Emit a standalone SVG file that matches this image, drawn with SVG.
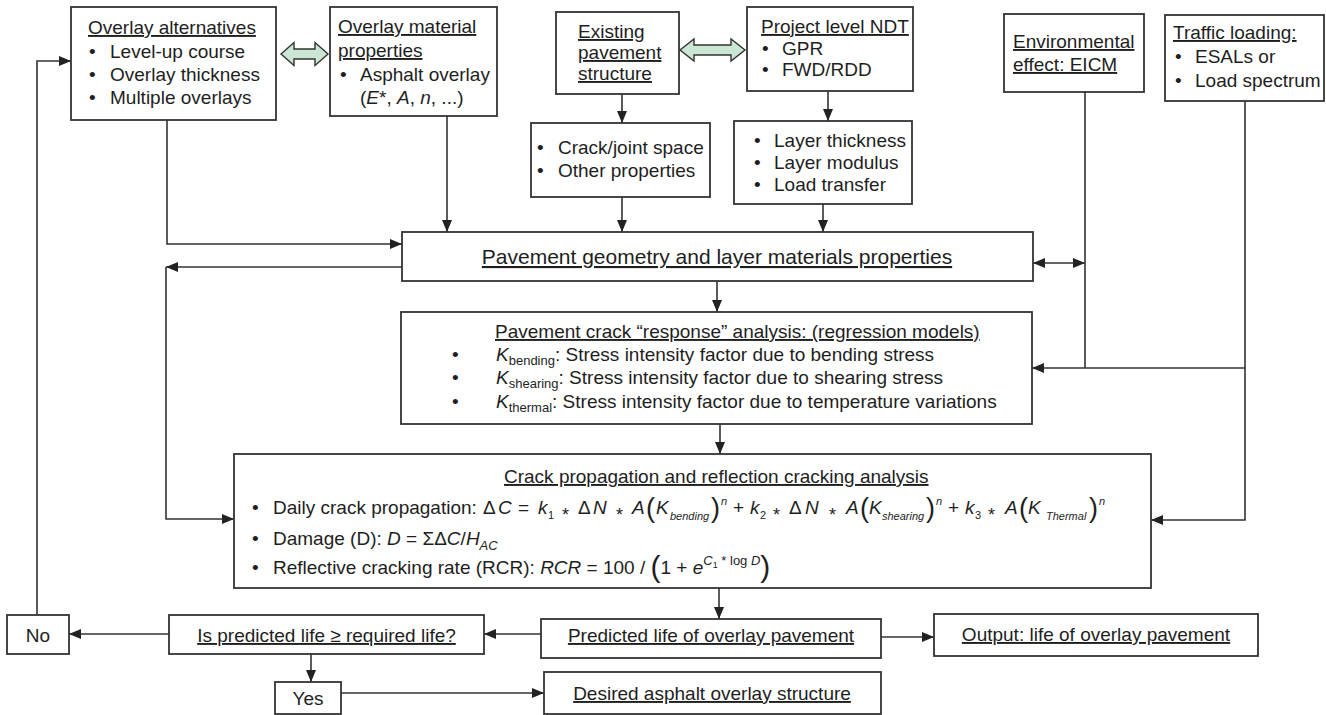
<svg xmlns="http://www.w3.org/2000/svg" width="1326" height="715" viewBox="0 0 1326 715">
<style>
.box{fill:#fff;stroke:#333;stroke-width:1.8}
.t{font-family:"Liberation Sans",Arial,"DejaVu Sans",sans-serif;font-size:19px;fill:#1e1e1e}
.u{text-decoration:underline}
.i{font-style:italic}
.ln{fill:none;stroke:#333;stroke-width:1.6}
.ga{fill:#cbe7d3;stroke:#333;stroke-width:1.4}
.sub{font-size:11px;font-style:italic}
.bp{font-size:27px}
.ast{font-size:18px}
</style>
<defs>
<marker id="ah" viewBox="0 0 12 10" refX="12" refY="5" markerWidth="12" markerHeight="10" markerUnits="userSpaceOnUse" orient="auto-start-reverse">
<path d="M0,0 L12,5 L0,10 z" fill="#222"/>
</marker>
</defs>
<rect width="1326" height="715" fill="#fff"/>

<g id="connectors">
<polygon class="ga" points="281,54 294,42.5 294,49 315,49 315,42.5 328,54 315,65.5 315,59 294,59 294,65.5"/>
<polygon class="ga" points="680,50 694,39 694,45 731,45 731,39 745,50 731,61 731,55 694,55 694,61"/>
<path class="ln" d="M167,120 V244 H402" marker-end="url(#ah)"/>
<path class="ln" d="M447,116 V232" marker-end="url(#ah)"/>
<path class="ln" d="M622,94 V123" marker-end="url(#ah)"/>
<path class="ln" d="M622,197 V232" marker-end="url(#ah)"/>
<path class="ln" d="M828,91 V121" marker-end="url(#ah)"/>
<path class="ln" d="M823,204 V232" marker-end="url(#ah)"/>
<path class="ln" d="M402,267 H166" marker-end="url(#ah)"/>
<path class="ln" d="M166,267 V519 H234" marker-end="url(#ah)"/>
<path class="ln" d="M1033,263 H1085" marker-start="url(#ah)" marker-end="url(#ah)"/>
<path class="ln" d="M1085,92 V368"/>
<path class="ln" d="M1245,101 V520 H1151" marker-end="url(#ah)"/>
<path class="ln" d="M1245,368 H1032" marker-end="url(#ah)"/>
<path class="ln" d="M717,281 V312" marker-end="url(#ah)"/>
<path class="ln" d="M720,424 V454" marker-end="url(#ah)"/>
<path class="ln" d="M719,588 V619" marker-end="url(#ah)"/>
<path class="ln" d="M541,634 H484" marker-end="url(#ah)"/>
<path class="ln" d="M169,634 H69" marker-end="url(#ah)"/>
<path class="ln" d="M37,615 V61 H71" marker-end="url(#ah)"/>
<path class="ln" d="M311,654 V682" marker-end="url(#ah)"/>
<path class="ln" d="M341,693 H544" marker-end="url(#ah)"/>
<path class="ln" d="M881,637 H934" marker-end="url(#ah)"/>
</g>

<g id="overlay-alternatives">
<rect class="box" x="71" y="7" width="205" height="113"/>
<text class="t u" x="88" y="34">Overlay alternatives</text>
<text class="t" x="89" y="58">•</text><text class="t" x="110" y="58">Level-up course</text>
<text class="t" x="89" y="81">•</text><text class="t" x="110" y="81">Overlay thickness</text>
<text class="t" x="89" y="104">•</text><text class="t" x="110" y="104">Multiple overlays</text>
</g>

<g id="overlay-material">
<rect class="box" x="330" y="7" width="167" height="109"/>
<text class="t u" x="338" y="33">Overlay material</text>
<text class="t u" x="338" y="57">properties</text>
<text class="t" x="340" y="81">•</text><text class="t" x="360" y="81">Asphalt overlay</text>
<text class="t" x="360" y="104">(<tspan class="i">E</tspan>*, <tspan class="i">A</tspan>, <tspan class="i">n</tspan>, ...)</text>
</g>

<g id="existing-pavement">
<rect class="box" x="556" y="12" width="123" height="82"/>
<text class="t u" x="578" y="38">Existing</text>
<text class="t u" x="578" y="59">pavement</text>
<text class="t u" x="578" y="80">structure</text>
</g>

<g id="project-ndt">
<rect class="box" x="747" y="7" width="166" height="84"/>
<text class="t u" x="761" y="33">Project level NDT</text>
<text class="t" x="762" y="55">•</text><text class="t" x="782" y="55">GPR</text>
<text class="t" x="762" y="76">•</text><text class="t" x="782" y="76">FWD/RDD</text>
</g>

<g id="crack-joint">
<rect class="box" x="531" y="123" width="179" height="74"/>
<text class="t" x="537" y="154">•</text><text class="t" x="558" y="154">Crack/joint space</text>
<text class="t" x="537" y="177">•</text><text class="t" x="558" y="177">Other properties</text>
</g>

<g id="layer-props">
<rect class="box" x="734" y="121" width="178" height="83"/>
<text class="t" x="754" y="147">•</text><text class="t" x="774" y="147">Layer thickness</text>
<text class="t" x="754" y="169">•</text><text class="t" x="774" y="169">Layer modulus</text>
<text class="t" x="754" y="191">•</text><text class="t" x="774" y="191">Load transfer</text>
</g>

<g id="environmental">
<rect class="box" x="1004" y="14" width="140" height="78"/>
<text class="t u" x="1013" y="48">Environmental</text>
<text class="t u" x="1013" y="71">effect: EICM</text>
</g>

<g id="traffic">
<rect class="box" x="1165" y="15" width="159" height="86"/>
<text class="t u" x="1173" y="39">Traffic loading:</text>
<text class="t" x="1175" y="63">•</text><text class="t" x="1195" y="63">ESALs or</text>
<text class="t" x="1175" y="87">•</text><text class="t" x="1195" y="87">Load spectrum</text>
</g>

<g id="geometry">
<rect class="box" x="402" y="232" width="631" height="49"/>
<text class="t u" x="717" y="264" text-anchor="middle" style="font-size:21px">Pavement geometry and layer materials properties</text>
</g>

<g id="response">
<rect class="box" x="401" y="312" width="631" height="112"/>
<text class="t u" x="495" y="338">Pavement crack “response” analysis: (regression models)</text>
<text class="t" x="452" y="361">•</text>
<text class="t" x="496" y="361"><tspan class="i">K</tspan><tspan font-size="13" dy="4">bending</tspan><tspan dy="-4">: Stress intensity factor due to bending stress</tspan></text>
<text class="t" x="452" y="384">•</text>
<text class="t" x="496" y="384"><tspan class="i">K</tspan><tspan font-size="13" dy="4">shearing</tspan><tspan dy="-4">: Stress intensity factor due to shearing stress</tspan></text>
<text class="t" x="452" y="408">•</text>
<text class="t" x="496" y="408"><tspan class="i">K</tspan><tspan font-size="13" dy="4">thermal</tspan><tspan dy="-4">: Stress intensity factor due to temperature variations</tspan></text>
</g>

<g id="crack-propagation">
<rect class="box" x="234" y="454" width="917" height="134"/>
<text class="t u" x="504" y="483">Crack propagation and reflection cracking analysis</text>
<text class="t" x="252" y="514">•</text>
<text class="t" x="273" y="514">Daily crack propagation:</text>
<text class="t">
<tspan x="483" y="514">Δ</tspan><tspan x="498" y="514" class="i">C</tspan>
<tspan x="518" y="514">=</tspan>
<tspan x="538" y="514" class="i">k</tspan><tspan x="548" y="519" font-size="11">1</tspan>
<tspan x="562" y="521" class="ast">*</tspan>
<tspan x="578" y="514">Δ</tspan><tspan x="593" y="514" class="i">N</tspan>
<tspan x="616" y="521" class="ast">*</tspan>
<tspan x="632" y="514" class="i">A</tspan>
<tspan x="646" y="517" class="bp">(</tspan>
<tspan x="656" y="514" class="i">K</tspan><tspan x="670" y="520" class="sub">bending</tspan>
<tspan x="711" y="517" class="bp">)</tspan>
<tspan x="721" y="505" class="sub">n</tspan>
<tspan x="733" y="514">+</tspan>
<tspan x="750" y="514" class="i">k</tspan><tspan x="760" y="519" font-size="11">2</tspan>
<tspan x="773" y="521" class="ast">*</tspan>
<tspan x="789" y="514">Δ</tspan><tspan x="805" y="514" class="i">N</tspan>
<tspan x="829" y="521" class="ast">*</tspan>
<tspan x="846" y="514" class="i">A</tspan>
<tspan x="860" y="517" class="bp">(</tspan>
<tspan x="869" y="514" class="i">K</tspan><tspan x="882" y="520" class="sub">shearing</tspan>
<tspan x="926" y="517" class="bp">)</tspan>
<tspan x="936" y="505" class="sub">n</tspan>
<tspan x="948" y="514">+</tspan>
<tspan x="965" y="514" class="i">k</tspan><tspan x="975" y="519" font-size="11">3</tspan>
<tspan x="988" y="521" class="ast">*</tspan>
<tspan x="1005" y="514" class="i">A</tspan>
<tspan x="1019" y="517" class="bp">(</tspan>
<tspan x="1028" y="514" class="i">K</tspan><tspan x="1046" y="520" class="sub">Thermal</tspan>
<tspan x="1089" y="517" class="bp">)</tspan>
<tspan x="1099" y="505" class="sub">n</tspan>
</text>
<text class="t" x="252" y="545">•</text>
<text class="t" x="273" y="545">Damage (D): <tspan class="i">D</tspan> = ΣΔ<tspan class="i">C</tspan>/<tspan class="i">H</tspan><tspan class="i" font-size="13" dy="5">AC</tspan></text>
<text class="t" x="252" y="574">•</text>
<text class="t" x="273" y="574">Reflective cracking rate (RCR): <tspan class="i">RCR</tspan> = 100 / <tspan font-size="30" dy="3">(</tspan><tspan dy="-3">1 + </tspan><tspan class="i">e</tspan><tspan class="i" font-size="13" dy="-9">C</tspan><tspan font-size="9" dy="3">1</tspan><tspan font-size="13" dy="-3"> * log </tspan><tspan class="i" font-size="13">D</tspan><tspan font-size="30" dy="12">)</tspan></text>
</g>

<g id="predicted-life">
<rect class="box" x="541" y="619" width="340" height="39"/>
<text class="t u" x="711" y="642" text-anchor="middle">Predicted life of overlay pavement</text>
</g>

<g id="output">
<rect class="box" x="934" y="614" width="324" height="42"/>
<text class="t u" x="1096" y="641" text-anchor="middle">Output: life of overlay pavement</text>
</g>

<g id="decision">
<rect class="box" x="169" y="615" width="315" height="39"/>
<text class="t u" x="326.5" y="642" text-anchor="middle">Is predicted life ≥ required life?</text>
</g>

<g id="no">
<rect class="box" x="7" y="615" width="62" height="39"/>
<text class="t" x="38" y="642" text-anchor="middle">No</text>
</g>

<g id="yes">
<rect class="box" x="275" y="682" width="66" height="32"/>
<text class="t" x="308" y="705" text-anchor="middle">Yes</text>
</g>

<g id="desired">
<rect class="box" x="544" y="672" width="337" height="42"/>
<text class="t u" x="712" y="700" text-anchor="middle">Desired asphalt overlay structure</text>
</g>
</svg>
